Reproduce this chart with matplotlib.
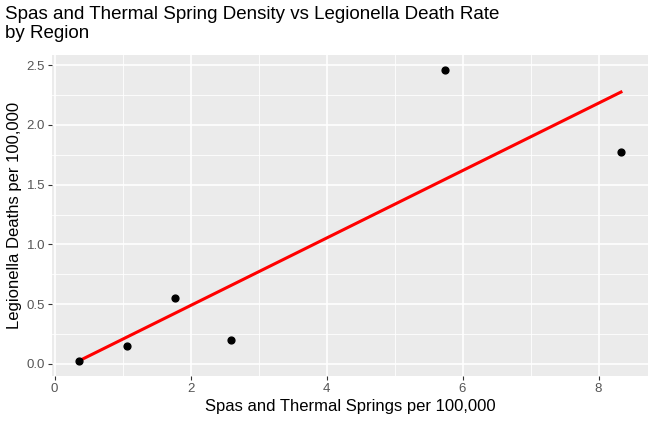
import matplotlib
matplotlib.use('Agg')
import matplotlib.pyplot as plt
import numpy as np
from matplotlib.ticker import MultipleLocator

plt.rcParams['font.family'] = ['Liberation Sans', 'DejaVu Sans']

# Dados
spas = np.array([0.36, 1.06, 1.77, 2.60, 5.74, 8.33])
mortes = np.array([0.02, 0.15, 0.55, 0.20, 2.46, 1.77])

x_ticks = [0, 2, 4, 6, 8]
y_ticks = [0.0, 0.5, 1.0, 1.5, 2.0, 2.5]

fig = plt.figure(figsize=(6.5, 4.23), dpi=100)
ax = fig.add_axes([0.08, 0.111, 0.917, 0.758])
ax.set_facecolor('#EBEBEB')

# Ajuste linear (como geom_smooth method='lm')
coef = np.polyfit(spas, mortes, 1)
xs = np.linspace(spas.min(), spas.max(), 100)
ax.plot(xs, np.polyval(coef, xs), color='#FF0000', lw=2.2, zorder=3)
ax.scatter(spas, mortes, color='black', s=24, zorder=4)

# Limites com expansão de 5% (estilo ggplot)
xr = spas.max() - spas.min()
yr = mortes.max() - mortes.min()
ax.set_xlim(spas.min() - 0.05 * xr, spas.max() + 0.05 * xr)
ax.set_ylim(mortes.min() - 0.05 * yr, mortes.max() + 0.05 * yr)

ax.set_xticks(x_ticks)
ax.set_yticks(y_ticks)
ax.set_yticklabels([f'{v:.1f}' for v in y_ticks])
ax.xaxis.set_minor_locator(MultipleLocator(1))
ax.yaxis.set_minor_locator(MultipleLocator(0.25))

ax.grid(True, which='major', color='white', lw=1.2)
ax.grid(True, which='minor', color='white', lw=0.6)
ax.set_axisbelow(True)
for s in ax.spines.values():
    s.set_visible(False)

ax.tick_params(which='major', length=3, color='#333333', labelcolor='#555555',
               labelsize=9.5, pad=2)
ax.tick_params(which='minor', length=0)

ax.set_xlabel('Spas and Thermal Springs per 100,000', fontsize=12, labelpad=3)
ax.set_ylabel('Legionella Deaths per 100,000', fontsize=12, labelpad=3)

fig.text(0.008, 0.985, 'Spas and Thermal Spring Density vs Legionella Death Rate\nby Region',
         fontsize=13.5, va='top', ha='left', linespacing=1.1)

fig.savefig('out.png', dpi=100)
